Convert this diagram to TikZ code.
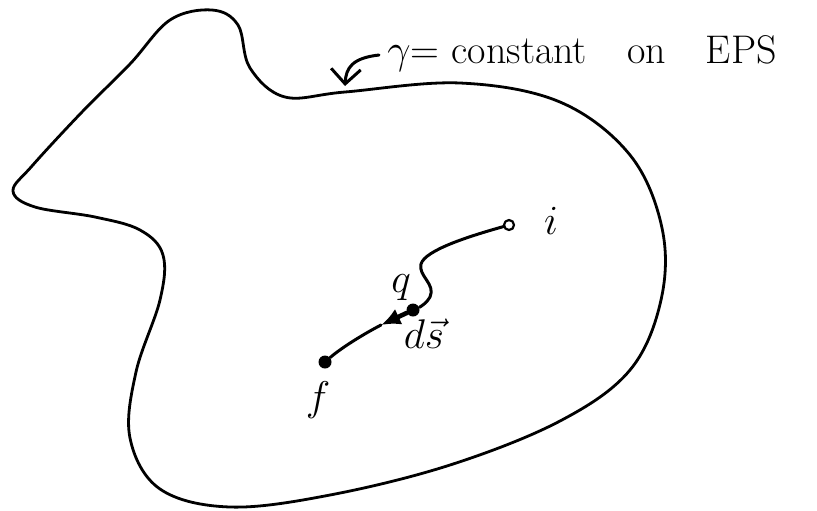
\documentclass[tikz,border=0pt]{standalone}
\usepackage{amsmath}
\usetikzlibrary{arrows.meta}

\begin{document}
\begin{tikzpicture}[
        x=0.5pt, y=-0.5pt,
        >=Latex,
        line cap=round, line join=round,
        surface/.style={line width=1.4pt},
        path line/.style={line width=1.5pt},
        step arrow/.style={line width=2.3pt, -{Latex[length=3.4mm, width=3mm]}},
        dot full/.style={circle, fill=black, inner sep=0pt, minimum size=6.5pt},
        dot open/.style={circle, draw=black, fill=white, line width=1.1pt, inner sep=0pt, minimum size=5pt},
        hand label/.style={font=\fontsize{20}{24}\selectfont, inner sep=1pt},
    ]
    \useasboundingbox (0,0) rectangle (817,510);

    % surface on which gamma is constant
    \draw[surface] plot[smooth cycle, tension=0.6] coordinates {
        (170,20) (212,10) (238,25) (250,68) (285,97) (345,92)
        (460,83) (560,102) (630,155) (662,228) (661,300) (630,370)
        (560,421) (450,465) (330,495) (230,507) (160,489) (130,438)
        (136,372) (160,300) (163,255) (140,230) (95,217) (35,207)
        (13,191) (32,166) (82,112) (130,64)
    };

    \node[dot open] (i) at (509,225) {};
    \node[dot full] (q) at (413,310) {};
    \node[dot full] (f) at (325,362) {};
    \coordinate (dsTip) at (381,325);

    \draw[path line] (i) .. controls (470,236) and (425,250) .. (421,264)
        .. controls (418,276) and (436,284) .. (430,297)
        .. controls (427,303) and (420,307) .. (q);
    \draw[step arrow] (q) -- (dsTip);
    \draw[path line] (dsTip) .. controls (360,336) and (340,349) .. (f);

    \node[hand label] (iLabel) at (551,221) {$i$};
    \node[hand label] (qLabel) at (401,288) {$q$};
    \node[hand label] (dsLabel) at (424,334) {$d\vec{s}$};
    \node[hand label] (fLabel) at (318,400) {$f$};

    \node[hand label, anchor=base west] (eps) at (385,63)
        {$\gamma$= constant\quad on\quad EPS};
    \coordinate (hookEnd) at (345,86);
    \draw[line width=1.5pt, -{Straight Barb[length=2.6mm]}]
        ([xshift=-3pt, yshift=4pt]eps.base west) .. controls (352,58) and (346,68) .. (hookEnd);
\end{tikzpicture}
\end{document}
